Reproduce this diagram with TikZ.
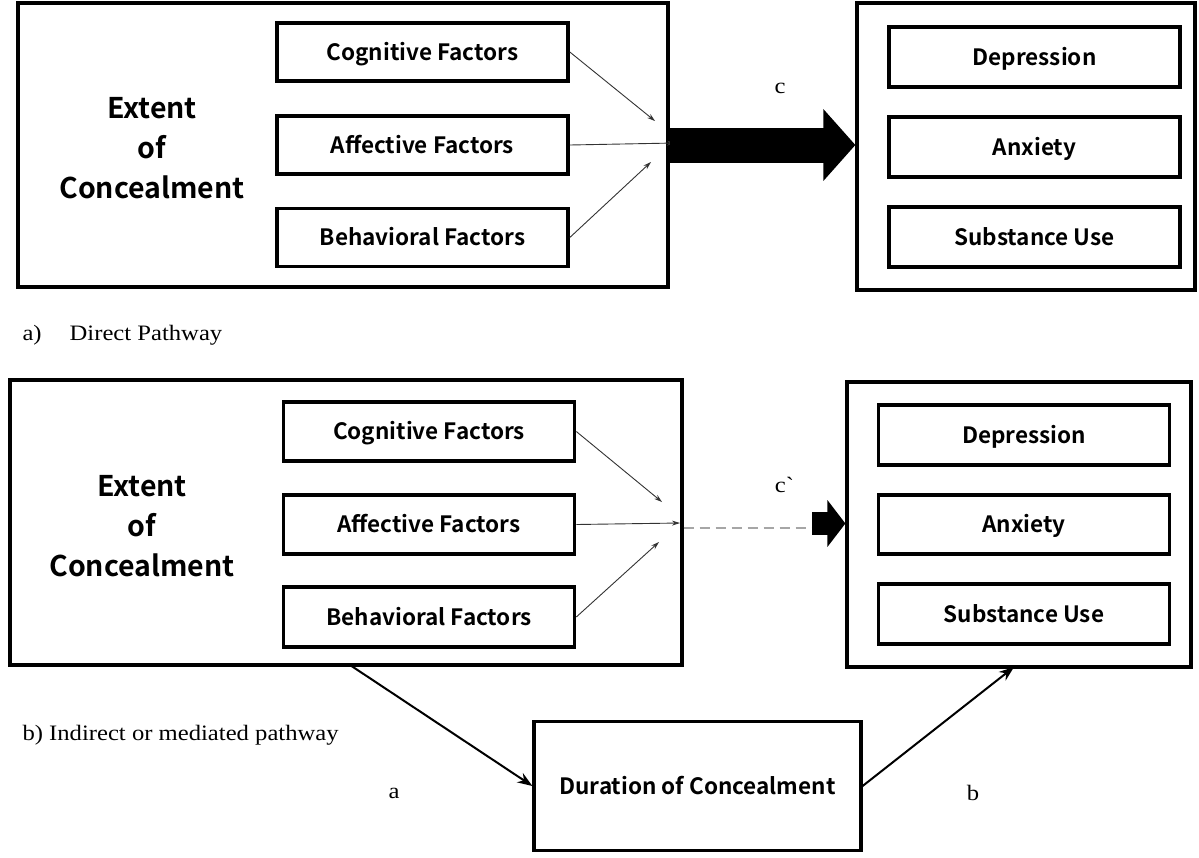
\documentclass[tikz,border=0pt]{standalone}
\usepackage{fontspec}
\setmainfont[FakeStretch=1.12]{Liberation Serif}
\newfontfamily\boxfont{Noto Sans CJK SC Bold}
\usetikzlibrary{arrows.meta,calc}
\begin{document}
\begin{tikzpicture}[x=1pt,y=-1pt,
  outer/.style={draw,line width=3.2pt,minimum width=#1},
  inner/.style={draw,line width=3.6pt,minimum width=291pt,minimum height=58pt,inner sep=0pt,
     text height=16pt,text depth=0pt,
     font=\boxfont\fontsize{22.5}{24}\selectfont},
  bigtext/.style={font=\boxfont\fontsize{28.5}{40}\selectfont,align=center},
  thin/.style={line width=0.9pt,draw=black!80,-{Stealth[length=8pt,width=5pt]}},
  serif/.style={font=\fontsize{22}{26}\selectfont},
  med/.style={line width=2pt,-{Stealth[length=15pt,width=11pt]}}
]
\useasboundingbox (0,0) rectangle (1199,857);
% ---------- a) direct pathway ----------
\node[outer=650pt,minimum height=284pt] (L1) at (343,145) {};
\node[inner] (cog1) at (422.5,52) {Cognitive Factors};
\node[inner] (aff1) at (422.5,145) {Affective Factors};
\node[inner] (beh1) at (422.5,237.5) {Behavioral Factors};
\node[bigtext] (ext1) at (152,148) {Extent\\of\\Concealment};
\node[outer=338pt,minimum height=287pt] (R1) at (1026,146.5) {};
\node[inner,minimum height=60pt] (dep1) at (1034.5,57) {Depression};
\node[inner,minimum height=60pt] (anx1) at (1034.5,147) {Anxiety};
\node[inner,minimum height=60pt] (sub1) at (1034.5,237) {Substance Use};
\coordinate (t1a) at (655,121);
\coordinate (t1b) at (675,143);
\coordinate (t1c) at (651,162);
\draw[thin] (cog1.east) -- (t1a);
\draw[thin] (aff1.east) -- (t1b);
\draw[thin] (beh1.east) -- (t1c);
\draw[line width=35pt,-{Triangle[length=32pt,width=70pt]}] (L1.east) -- (L1.east -| R1.west);
\node[serif] (c1) at (780,88) {c};
\node[serif,anchor=base west] (lab1) at (19,340) {a)\hspace{28pt}Direct Pathway};
% ---------- b) indirect pathway ----------
\node[outer=672pt,minimum height=285pt] (L2) at (346,522.5) {};
\node[inner,minimum height=59pt] (cog2) at (429,431.5) {Cognitive Factors};
\node[inner,minimum height=59pt] (aff2) at (429,524.5) {Affective Factors};
\node[inner,minimum height=60pt] (beh2) at (429,617) {Behavioral Factors};
\node[bigtext] (ext2) at (142,526) {Extent\\of\\Concealment};
\node[outer=344pt,minimum height=285pt] (R2) at (1019,524.5) {};
\node[inner,minimum height=60pt] (dep2) at (1024,435) {Depression};
\node[inner,minimum height=59pt] (anx2) at (1024,524.5) {Anxiety};
\node[inner,minimum height=60pt] (sub2) at (1024,614) {Substance Use};
\coordinate (t2a) at (662,502);
\coordinate (t2b) at (680,523);
\coordinate (t2c) at (659,542);
\draw[thin] (cog2.east) -- (t2a);
\draw[thin] (aff2.east) -- (t2b);
\draw[thin] (beh2.east) -- (t2c);
\coordinate (d0) at (L2.east |- 0,528);
\coordinate (d1) at (812,528);
\draw[gray!70,line width=2pt,dash pattern=on 10pt off 6pt] (d0) -- (d1);
\draw[line width=23pt,-{Triangle[length=18pt,width=46pt]}] (812,523.5) -- (R2.west |- 0,523.5);
\node[serif] (c2) at (784,485) {c\textasciigrave};
\node[draw,line width=3.2pt,minimum width=327pt,minimum height=129pt,
  text height=16pt,text depth=0pt,
  font=\boxfont\fontsize{22.5}{24}\selectfont] (dur) at (697.5,786) {Duration of Concealment};
\coordinate (as) at (350,665);
\coordinate (be) at (1014,667);
\draw[med] (as) -- (dur.west);
\draw[med] (dur.east) -- (be);
\node[serif] (la) at (394,793) {a};
\node[serif] (lb) at (973,793) {b};
\node[serif,anchor=base west] (lab2) at (19,740) {b) Indirect or mediated pathway};
\end{tikzpicture}
\end{document}
